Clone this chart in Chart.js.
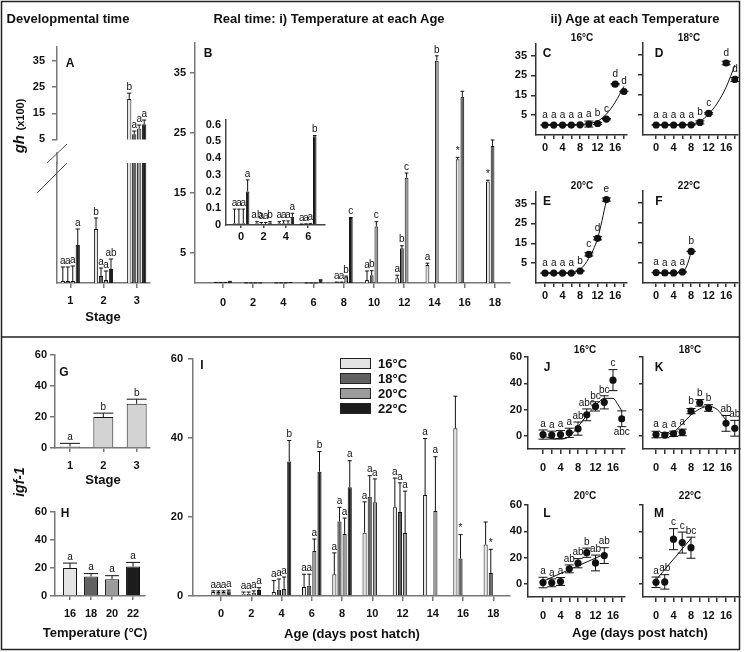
<!DOCTYPE html>
<html lang="en">
<head>
<meta charset="UTF-8" />
<title>gh and igf-1 expression</title>
<script src="https://cdn.jsdelivr.net/npm/chart.js"></script>
<style>
  body { margin: 0; background: #fff; font-family: 'Liberation Sans', Arial, sans-serif; color: #111; }
  #fig { position: relative; width: 745px; height: 652px; overflow: hidden; }
  .cv { position: absolute; }
  .t { position: absolute; transform: translate(-50%, -50%); white-space: nowrap; font-weight: bold; z-index: 5; }
  .h { font-size: 13px; }
  .p { font-size: 12px; }
  .s { font-size: 10px; }
  .rot { transform: translate(-50%, -50%) rotate(-90deg); }
  svg { position: absolute; left: 0; top: 0; pointer-events: none; z-index: 4; }
  .leg { position: absolute; left: 340px; top: 356px; z-index: 5; }
  .leg div { height: 15px; display: flex; align-items: center; font-weight: bold; font-size: 13px; }
  .leg span { width: 29px; height: 9px; border: 1px solid #222; margin-right: 7px; }
</style>
</head>
<body>
<div id="fig">
  <div class="t h" style="left:68px;top:18px">Developmental time</div>
  <div class="t h" style="left:329px;top:18px">Real time: i) Temperature at each Age</div>
  <div class="t h" style="left:635px;top:18px">ii) Age at each Temperature</div>

  <div class="t rot" style="left:19px;top:126px"><i style="font-size:15px">gh</i> <span style="font-size:11px">(x100)</span></div>
  <div class="t rot" style="left:19px;top:482px"><i style="font-size:14px">igf-1</i></div>

  <div class="t p" style="left:70px;top:63px">A</div>
  <div class="t p" style="left:208px;top:53px">B</div>
  <div class="t p" style="left:547px;top:53px">C</div>
  <div class="t p" style="left:659px;top:53px">D</div>
  <div class="t p" style="left:547px;top:201px">E</div>
  <div class="t p" style="left:659px;top:201px">F</div>
  <div class="t p" style="left:64px;top:372px">G</div>
  <div class="t p" style="left:65px;top:513px">H</div>
  <div class="t p" style="left:202px;top:365px">I</div>
  <div class="t p" style="left:547px;top:367px">J</div>
  <div class="t p" style="left:659px;top:367px">K</div>
  <div class="t p" style="left:547px;top:513px">L</div>
  <div class="t p" style="left:659px;top:513px">M</div>

  <div class="t s" style="left:582px;top:37px">16°C</div>
  <div class="t s" style="left:689px;top:37px">18°C</div>
  <div class="t s" style="left:582px;top:185px">20°C</div>
  <div class="t s" style="left:689px;top:185px">22°C</div>
  <div class="t s" style="left:585px;top:349px">16°C</div>
  <div class="t s" style="left:690px;top:349px">18°C</div>
  <div class="t s" style="left:585px;top:495px">20°C</div>
  <div class="t s" style="left:690px;top:495px">22°C</div>

  <div class="t h" style="left:103px;top:316px">Stage</div>
  <div class="t h" style="left:103px;top:479px">Stage</div>
  <div class="t h" style="left:95px;top:632px">Temperature (°C)</div>
  <div class="t h" style="left:352px;top:633px">Age (days post hatch)</div>
  <div class="t h" style="left:640px;top:632px">Age (days post hatch)</div>

  <div class="leg">
    <div><span style="background:#e4e4e4"></span>16°C</div>
    <div><span style="background:#616161"></span>18°C</div>
    <div><span style="background:#9b9b9b"></span>20°C</div>
    <div><span style="background:#1c1c1c"></span>22°C</div>
  </div>

  <svg width="745" height="652">
    <rect x="1.5" y="1.5" width="738" height="648" fill="none" stroke="#222" stroke-width="1.5"/>
    <line x1="1.5" y1="337" x2="739.5" y2="337" stroke="#222" stroke-width="1.5"/>
    <line x1="57" y1="152" x2="57" y2="164" stroke="#777" stroke-width="1.5"/>
    <line x1="47" y1="163" x2="67" y2="144" stroke="#555" stroke-width="1"/>
    <line x1="37" y1="193" x2="67" y2="163" stroke="#555" stroke-width="1"/>
  </svg>
</div>

<script>
  // ---- data ----
  const ages = [0, 2, 4, 6, 8, 10, 12, 14, 16, 18];
  const stages = [1, 2, 3];
  const temps = [16, 18, 20, 22];

  // gh (x100), mean per age at each temperature
  const gh16 = [0.01, 0.01, 0.01, 0.003, 0.1, 0.5, 0.8, 3, 20.6, 16.9];
  const gh18 = [0.01, 0.005, 0.01, 0.004, 0.1, 1.3, 5.8, null, 31, 22.8];
  const gh20 = [0.01, 0.005, 0.01, 0.004, 1.05, 9.4, 17.5, 37, null, null];
  const gh22 = [0.2, 0.015, 0.05, 0.53, 10.8, null, null, null, null, null];
  const ghErr16 = [0.085, 0.01, 0.01, 0.003, 0.05, 1.5, 0.5, 0.3, 0.3, 0.2];
  const ghErr18 = [0.085, 0.01, 0.015, 0.003, 0.05, 0.75, 0.4, null, 0.9, 1.0];
  const ghErr20 = [0.085, 0.01, 0.015, 0.004, 0.1, 0.8, 0.8, 0.8, null, null];
  const ghErr22 = [0.07, 0.005, 0.02, 0.005, 0.1, null, null, null, null, null];
  // letters: temperatures compared at one age (B and inset)
  const ghLetT16 = ['a', 'ab', 'a', 'a', 'a', 'a', 'a', 'a', '*', '*'];
  const ghLetT18 = ['a', 'a', 'a', 'a', 'a', 'b', 'b', '', '', ''];
  const ghLetT20 = ['a', 'a', 'a', 'a', 'b', 'c', 'c', 'b', '', ''];
  const ghLetT22 = ['a', 'b', 'a', 'b', 'c', '', '', '', '', ''];
  // letters: ages compared at one temperature (C-F)
  const ghLetA16 = ['a', 'a', 'a', 'a', 'a', 'a', 'b', 'c', 'd', 'd'];
  const ghLetA18 = ['a', 'a', 'a', 'a', 'a', 'b', 'c', '', 'd', 'd'];
  const ghLetA20 = ['a', 'a', 'a', 'a', 'b', 'c', 'd', 'e', '', ''];
  const ghLetA22 = ['a', 'a', 'a', 'a', 'b', '', '', '', '', ''];

  // gh by stage (A)
  const ghSt16 = [0.01, 0.27, 20.5];
  const ghSt18 = [0.01, 0.035, 7];
  const ghSt20 = [0.01, 0.015, 9.2];
  const ghSt22 = [0.19, 0.07, 10.8];
  const ghStErr16 = [0.07, 0.055, 2.2];
  const ghStErr18 = [0.07, 0.04, 1.2];
  const ghStErr20 = [0.075, 0.045, 1.3];
  const ghStErr22 = [0.08, 0.05, 1.6];
  const ghStLet16 = ['a', 'b', 'b'];
  const ghStLet18 = ['a', 'a', 'a'];
  const ghStLet20 = ['a', 'a', 'a'];
  const ghStLet22 = ['a', 'ab', 'a'];

  // fitted curves in C-F
  const fitCx = [0, 4, 8, 10, 12, 14, 16, 18], fitCy = [0, 0, 0.3, 0.8, 2, 5.5, 11.5, 19.5];
  const fitDx = [0, 4, 8, 10, 12, 14, 16, 18], fitDy = [0, 0, 0.5, 1.8, 5.5, 11, 19, 30];
  const fitEx = [0, 4, 6, 8, 10, 12, 14], fitEy = [0, 0, 0.3, 1.8, 7.5, 17.5, 36.5];
  const fitFx = [0, 4, 6, 7, 8], fitFy = [0, 0, 0.5, 3.5, 10.5];

  // igf-1, mean per age at each temperature
  const igf16 = [1, 0.6, 1, 2.3, 5.5, 16, 22.4, 25.5, 42.4, 13];
  const igf18 = [1, 0.6, 1.6, 2.6, 18.8, 25.1, 21.2, null, 9.5, 5.8];
  const igf20 = [1, 0.8, 1.8, 11.4, 15.7, 23.7, 15.9, 21.5, null, null];
  const igf22 = [1.2, 1.5, 34, 31.4, 27.5, null, null, null, null, null];
  // error bars in I
  const igfSd16 = [0.3, 0.4, 2.9, 3.2, 5.4, 7.8, 7.4, 14.3, 8.1, 5.7];
  const igfSd18 = [0.3, 0.4, 2.7, 2.9, 3.6, 5.3, 7.4, null, 6, 6];
  const igfSd20 = [0.3, 0.5, 3, 3, 4, 5.9, 10.6, 13.7, null, null];
  const igfSd22 = [0.3, 0.6, 5.3, 5.1, 6.7, null, null, null, null, null];
  // error bars in J-M
  const igfSe16 = [3.5, 3, 3, 3.5, 5, 4.5, 3.5, 5, 8, 6];
  const igfSe18 = [2.5, 2, 2, 2.5, 2, 2.5, 2.5, null, 6, 6];
  const igfSe20 = [4, 3, 3, 3, 3.5, 3.5, 6, 6, null, null];
  const igfSe22 = [4, 5.5, 8, 8, 8, null, null, null, null, null];
  const igfLetT16 = ['a', 'a', 'a', 'a', 'a', 'a', 'a', 'a', '', ''];
  const igfLetT18 = ['a', 'a', 'a', 'a', 'a', 'a', 'a', '', '*', '*'];
  const igfLetT20 = ['a', 'a', 'a', 'a', 'a', 'a', 'a', 'a', '', ''];
  const igfLetT22 = ['a', 'a', 'b', 'b', 'a', '', '', '', '', ''];
  const igfLetA16 = ['a', 'a', 'a', 'a', 'ab', 'abc', 'bc', 'bc', 'c', 'abc'];
  const igfLetA18 = ['a', 'a', 'a', 'a', 'b', 'b', 'b', '', 'ab', 'ab'];
  const igfLetA20 = ['a', 'a', 'a', 'ab', 'ab', 'b', 'ab', 'ab', '', ''];
  const igfLetA22 = ['a', 'ab', 'c', 'c', 'bc', '', '', '', '', ''];
  const fitJx = [0, 2, 4, 6, 8, 10, 12, 14, 16, 17, 18], fitJy = [0, -2, -2.5, -0.5, 7, 15.5, 23, 28.5, 28.5, 24.5, 19];
  const fitKx = [2, 4, 6, 8, 10, 12, 14, 16], fitKy = [0.5, 3, 9, 16, 20.5, 22.5, 20, 12];
  const fitLx = [0, 14], fitLy = [2, 22.5];
  const fitMx = [0, 8], fitMy = [3, 34.5];

  // igf-1 by stage (G) and by temperature (H)
  const igfStage = [1, 20, 28.5], igfStageErr = [2, 2.5, 3], igfStageLet = ['a', 'b', 'b'];
  const igfTemp = [20, 14, 12, 21], igfTempErr = [3.5, 2, 2.5, 3], igfTempLet = ['a', 'a', 'a', 'a'];

  const ghTicks = [5, 15, 25, 35];
  const insetTicks = [0, 0.1, 0.2, 0.3, 0.4, 0.5, 0.6];
  const igfTicks = [0, 20, 40, 60];

  // ---- drawing ----
  const FONT = "'Liberation Sans', Arial, sans-serif";
  const tcol = ['#e4e4e4', '#616161', '#9b9b9b', '#1c1c1c'];
  Chart.defaults.font.family = FONT;
  Chart.defaults.color = '#111';

  // error bars + significance letters
  Chart.register({
    id: 'marks',
    afterDatasetsDraw(chart, args, opts) {
      const { ctx } = chart, xs = chart.scales.x, ys = chart.scales.y;
      ctx.save();
      ctx.strokeStyle = '#111';
      ctx.fillStyle = '#111';
      ctx.lineWidth = 1;
      ctx.font = '10px ' + FONT;
      ctx.textAlign = 'center';
      chart.data.datasets.forEach((ds, di) => {
        if (!ds.err) return;
        const meta = chart.getDatasetMeta(di);
        const bar = meta.type === 'bar';
        meta.data.forEach((el, i) => {
          const p = ds.data[i];
          if (p.y == null || p.y < ys.min || p.y > ys.max || p.x < xs.min || p.x > xs.max) return;
          const e = ds.err[i] || 0;
          const yt = ys.getPixelForValue(p.y + e);
          const yb = bar ? el.y : ys.getPixelForValue(p.y - e);
          const hw = bar ? el.width / 2 : 4.5;
          if (e > 0) {
            ctx.beginPath();
            ctx.moveTo(el.x, yb); ctx.lineTo(el.x, yt);
            ctx.moveTo(el.x - hw, yt); ctx.lineTo(el.x + hw, yt);
            if (!bar) { ctx.moveTo(el.x - hw, yb); ctx.lineTo(el.x + hw, yb); }
            ctx.stroke();
          }
          const t = ds.lab && ds.lab[i];
          if (!t) return;
          if ((opts.below || []).includes(i)) {
            ctx.textBaseline = 'top';
            ctx.fillText(t, el.x, Math.max(yb, el.y + 4) + 1);
          } else {
            ctx.textBaseline = 'bottom';
            ctx.fillText(t, el.x, Math.min(yt, bar ? el.y : el.y - 4) - 1);
          }
        });
      });
      ctx.restore();
    }
  });

  const fig = document.getElementById('fig');
  const PAD = 10;
  // ax/ay = chart-area left/top on the page, aw/ah its size,
  // yw/xh = room kept for the y and x axes
  function place(ax, ay, aw, ah, yw, xh, cfg) {
    const d = document.createElement('div');
    d.className = 'cv';
    d.style.left = (ax - yw) + 'px';
    d.style.top = (ay - PAD) + 'px';
    d.style.width = (yw + aw + PAD) + 'px';
    d.style.height = (PAD + ah + xh) + 'px';
    const c = document.createElement('canvas');
    d.appendChild(c);
    fig.appendChild(d);
    const o = cfg.options;
    o.responsive = true;
    o.maintainAspectRatio = false;
    o.animation = false;
    o.layout = { padding: { top: PAD, right: PAD, left: 0, bottom: 0 } };
    o.plugins = Object.assign({ legend: { display: false }, tooltip: { enabled: false } }, o.plugins);
    o.scales.y.afterFit = s => { s.width = yw; };
    o.scales.x.afterFit = s => { s.height = xh; };
    return new Chart(c, cfg);
  }

  function axis(min, max, ticks, o) {
    const col = o.col || '#777';
    return {
      type: 'linear', min, max, offset: false, display: o.show !== false,
      afterBuildTicks: s => { s.ticks = ticks.map(v => ({ value: v })); },
      border: { color: col, width: 1.5 },
      grid: { drawOnChartArea: false, offset: false, color: col, lineWidth: 1.5, tickLength: o.tl },
      ticks: {
        display: o.labels !== false, autoSkip: false, maxRotation: 0, padding: o.pad,
        font: { size: 11, weight: 'bold' }, color: '#111',
        callback: v => (o.every ? (v % o.every === 0 ? v : '') : v)
      }
    };
  }

  function bars(xs, vals, err, lab, color) {
    return {
      data: xs.map((x, i) => ({ x, y: vals[i] })), err, lab, clip: 0,
      backgroundColor: color, borderColor: '#111', borderWidth: 1
    };
  }

  function barChart(sets, x, y, cat, barP) {
    return {
      type: 'bar',
      data: { datasets: sets },
      options: { categoryPercentage: cat, barPercentage: barP, scales: { x, y } }
    };
  }

  // A: broken axis, upper and lower parts
  const aSets = () => [
    bars(stages, ghSt16, ghStErr16, ghStLet16, tcol[0]),
    bars(stages, ghSt18, ghStErr18, ghStLet18, tcol[1]),
    bars(stages, ghSt20, ghStErr20, ghStLet20, tcol[2]),
    bars(stages, ghSt22, ghStErr22, ghStLet22, tcol[3])
  ];
  place(57, 43, 93, 110, 37, 0, barChart(aSets(),
    axis(0.6, 3.4, stages, { show: false, tl: 5, pad: 7 }),
    axis(5, 40.5, ghTicks, { tl: 5, pad: 7 }), 0.6, 0.85));
  place(57, 163, 93, 120, 37, 30, barChart(aSets(),
    axis(0.6, 3.4, stages, { tl: 5, pad: 6 }),
    axis(0, 0.6, [], { labels: false, tl: 5, pad: 7 }), 0.6, 0.85));

  // B
  const bLab = l => l.map((t, i) => (ages[i] >= 8 ? t : ''));
  place(195, 42, 315, 241, 40, 30, barChart([
    bars(ages, gh16, ghErr16, bLab(ghLetT16), tcol[0]),
    bars(ages, gh18, ghErr18, bLab(ghLetT18), tcol[1]),
    bars(ages, gh20, ghErr20, bLab(ghLetT20), tcol[2]),
    bars(ages, gh22, ghErr22, bLab(ghLetT22), tcol[3])
  ], axis(-1.85, 19, ages, { tl: 5, pad: 8 }), axis(0, 40, ghTicks, { tl: 5, pad: 4 }), 0.62, 0.8));

  // B inset: ages 0-6
  const ia = ages.slice(0, 4);
  const cut = a => a.slice(0, 4);
  place(226, 118, 99, 107, 32, 20, barChart([
    bars(ia, cut(gh16), cut(ghErr16), cut(ghLetT16), tcol[0]),
    bars(ia, cut(gh18), cut(ghErr18), cut(ghLetT18), tcol[1]),
    bars(ia, cut(gh20), cut(ghErr20), cut(ghLetT20), tcol[2]),
    bars(ia, cut(gh22), cut(ghErr22), cut(ghLetT22), tcol[3])
  ], axis(-1.35, 7.5, ia, { tl: 3, pad: 2, col: '#444' }), axis(0, 0.63, insetTicks, { tl: 0, pad: 5, col: '#444' }), 0.78, 0.8));

  // C-F and J-M
  function ageChart(vals, err, lab, cx, cy, xr, yr, yTicks, o) {
    return {
      type: 'scatter',
      data: {
        datasets: [
          { data: ages.map((x, i) => ({ x, y: vals[i] })), err, lab, pointRadius: 3.6, pointBorderWidth: 0,
            pointBackgroundColor: '#111', pointBorderColor: '#111' },
          { data: cx.map((x, i) => ({ x, y: cy[i] })), showLine: true, pointRadius: 0,
            borderColor: '#111', borderWidth: 1, cubicInterpolationMode: 'monotone' }
        ]
      },
      options: {
        plugins: { marks: { below: o.below || [] } },
        scales: {
          x: axis(xr[0], xr[1], ages, { every: 4, tl: o.xtl, pad: o.xpad, col: '#333' }),
          y: axis(yr[0], yr[1], yTicks, { labels: o.labels, tl: o.ytl, pad: o.ypad, col: '#333' })
        }
      }
    };
  }
  const g1 = { xtl: 4, xpad: 2, ytl: 5, ypad: 4 };
  const g2 = Object.assign({}, g1, { labels: false });
  place(536, 43, 91, 92, 28, 20, ageChart(gh16, ghErr16, ghLetA16, fitCx, fitCy, [-2.05, 18.7], [-5, 41], ghTicks, g1));
  place(643, 43, 95, 92, 10, 20, ageChart(gh18, ghErr18, ghLetA18, fitDx, fitDy, [-3, 18.7], [-5, 41], ghTicks, g2));
  place(536, 191, 91, 92, 28, 20, ageChart(gh20, ghErr20, ghLetA20, fitEx, fitEy, [-2.05, 18.7], [-5, 41], ghTicks, g1));
  place(643, 191, 95, 92, 10, 20, ageChart(gh22, ghErr22, ghLetA22, fitFx, fitFy, [-3, 18.7], [-5, 41], ghTicks, g2));

  const j1 = { xtl: 5, xpad: 7, ytl: 4, ypad: 2 };
  const j2 = Object.assign({}, j1, { labels: false });
  place(528, 357, 97, 92, 30, 25, ageChart(igf16, igfSe16, igfLetA16, fitJx, fitJy, [-3.43, 18.74], [-10, 60], igfTicks, Object.assign({ below: [9] }, j1)));
  place(643, 357, 97, 92, 10, 25, ageChart(igf18, igfSe18, igfLetA18, fitKx, fitKy, [-2.97, 19.2], [-10, 60], igfTicks, j2));
  place(528, 505, 97, 92, 30, 25, ageChart(igf20, igfSe20, igfLetA20, fitLx, fitLy, [-3.43, 18.74], [-10, 60], igfTicks, j1));
  place(643, 505, 97, 92, 10, 25, ageChart(igf22, igfSe22, igfLetA22, fitMx, fitMy, [-2.97, 19.2], [-10, 60], igfTicks, j2));

  // G
  place(55, 355, 95, 93, 35, 25, barChart([
    bars(stages, igfStage, igfStageErr, igfStageLet, '#d3d3d3')
  ], axis(0.55, 3.4, stages, { tl: 4, pad: 7 }), axis(0, 60, igfTicks, { tl: 5, pad: 3 }), 0.63, 0.95));

  // H
  place(55, 512, 90, 84, 35, 25, barChart([
    bars(temps, igfTemp, igfTempErr, igfTempLet, tcol)
  ], axis(14.57, 23.14, temps, { tl: 4, pad: 7 }), axis(0, 60, igfTicks, { tl: 5, pad: 3 }), 0.7, 0.95));

  // I
  place(193, 357, 317, 239, 40, 25, barChart([
    bars(ages, igf16, igfSd16, igfLetT16, tcol[0]),
    bars(ages, igf18, igfSd18, igfLetT18, tcol[1]),
    bars(ages, igf20, igfSd20, igfLetT20, tcol[2]),
    bars(ages, igf22, igfSd22, igfLetT22, tcol[3])
  ], axis(-1.85, 19.1, ages, { tl: 5, pad: 6 }), axis(0, 60, igfTicks, { tl: 5, pad: 5 }), 0.68, 0.8));
</script>
</body>
</html>
